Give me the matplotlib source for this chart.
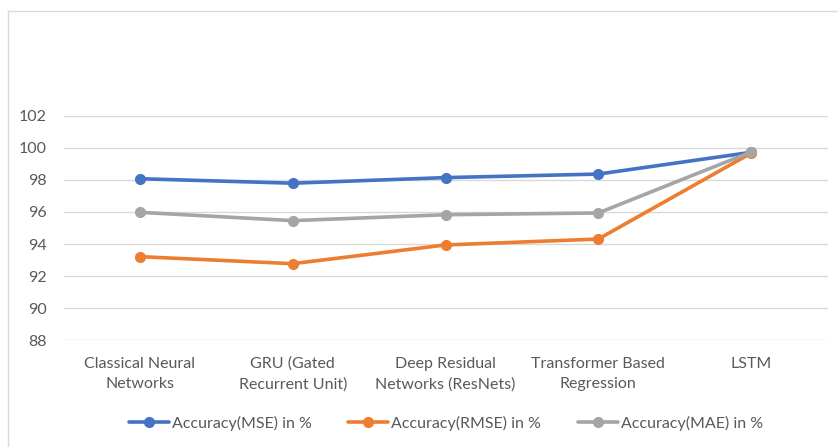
import matplotlib
matplotlib.use("Agg")
import matplotlib.pyplot as plt
from matplotlib.lines import Line2D

categories = ["Classical Neural\nNetworks", "GRU (Gated\nRecurrent Unit)", "Deep Residual\nNetworks (ResNets)",
              "Transformer Based\nRegression", "LSTM"]
mse = [98.08, 97.80, 98.15, 98.37, 99.73]
rmse = [93.21, 92.77, 93.94, 94.31, 99.68]
mae = [95.98, 95.46, 95.83, 95.94, 99.75]
series_names = ["Accuracy(MSE) in %", "Accuracy(RMSE) in %", "Accuracy(MAE) in %"]
colors = ["#4472C4", "#ED7D31", "#A5A5A5"]
yticks = [88, 90, 92, 94, 96, 98, 100, 102]

plt.rcParams['font.family'] = ['Lato', 'DejaVu Sans']
W, H = 838, 447
fig = plt.figure(figsize=(W / 100, H / 100), dpi=100)
ax = fig.add_axes([63.5 / W, (H - 340) / H, (827.5 - 63.5) / W, (340 - 116) / H])

x = list(range(len(categories)))
for vals, name, c in zip([mse, rmse, mae], series_names, colors):
    ax.plot(x, vals, color=c, lw=2.6, marker='o', ms=7, label=name, solid_capstyle='round')

ax.set_xlim(-0.5, len(categories) - 0.5)
ax.set_ylim(88, 102)
ax.set_yticks(yticks)
ax.set_xticks(x)
ax.set_xticklabels(categories, linespacing=1.6)
ax.grid(axis='y', color='#D9D9D9', lw=1)
ax.set_axisbelow(True)
for s in ax.spines.values():
    s.set_visible(False)
ax.tick_params(axis='both', length=0, labelsize=11.5, colors='#595959')
ax.tick_params(axis='y', pad=12)
ax.tick_params(axis='x', pad=12)

leg = fig.legend(loc='center', bbox_to_anchor=(446 / W, (H - 423) / H), ncol=3, frameon=False,
                 fontsize=11.5, handlelength=2.5, columnspacing=2.3, handletextpad=0.2)
for t in leg.get_texts():
    t.set_color('#595959')

# outer chart border (left and top visible)
fig.add_artist(Line2D([8 / W, 8 / W], [0, (H - 11) / H], color='#D9D9D9', lw=1, transform=fig.transFigure))
fig.add_artist(Line2D([8 / W, 1], [(H - 11) / H, (H - 11) / H], color='#D9D9D9', lw=1, transform=fig.transFigure))

fig.savefig("out.png", dpi=100)
